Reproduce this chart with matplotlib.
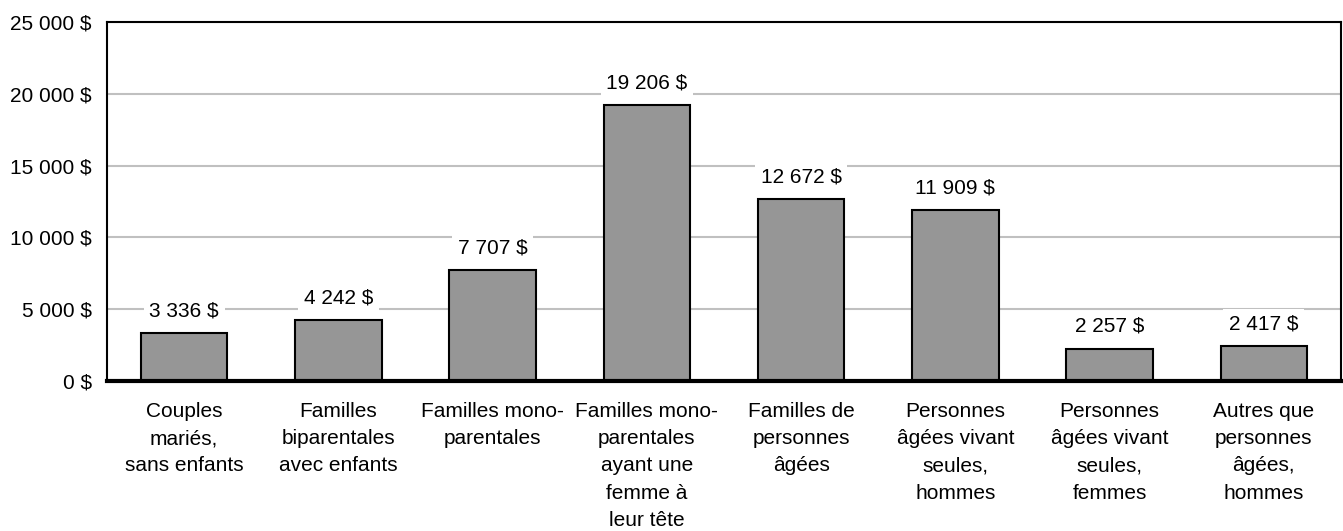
import matplotlib
matplotlib.use("Agg")
import matplotlib.pyplot as plt

plt.rcParams['font.family'] = ['Liberation Sans', 'DejaVu Sans']

categories = ["Couples\nmariés,\nsans enfants",
              "Familles\nbiparentales\navec enfants",
              "Familles mono-\nparentales",
              "Familles mono-\nparentales\nayant une\nfemme à\nleur tête",
              "Familles de\npersonnes\nâgées",
              "Personnes\nâgées vivant\nseules,\nhommes",
              "Personnes\nâgées vivant\nseules,\nfemmes",
              "Autres que\npersonnes\nâgées,\nhommes"]
values = [3336, 4242, 7707, 19206, 12672, 11909, 2257, 2417]
yticks = [0, 5000, 10000, 15000, 20000, 25000]


def fmt(v):
    return "{:,}".format(v).replace(",", " ") + " $"


fig = plt.figure(figsize=(13.43, 5.31), dpi=100)
ax = fig.add_axes([0.0797, 0.2825, 0.9188, 0.6761])

x = range(len(values))
ax.bar(x, values, width=0.56, color="#969696", edgecolor="black", linewidth=1.5, zorder=3)

for i, v in zip(x, values):
    ax.text(i, v + 1550, fmt(v), ha="center", va="center", fontsize=15,
            bbox=dict(facecolor="white", edgecolor="none", pad=4), zorder=4)

ax.set_xlim(-0.5, len(values) - 0.5)
ax.set_ylim(0, 25000)
ax.set_yticks(yticks)
ax.set_yticklabels([fmt(t) for t in yticks], fontsize=15)
ax.set_xticks(list(x))
ax.set_xticklabels(categories, fontsize=15, linespacing=1.55, va="top")
ax.tick_params(axis="both", length=0)
ax.tick_params(axis="x", pad=15)
ax.tick_params(axis="y", pad=11)
ax.yaxis.grid(True, color="#c0c0c0", linewidth=1.5, zorder=0)
ax.set_axisbelow(True)

for s in ["top", "right", "left"]:
    ax.spines[s].set_linewidth(1.5)
ax.spines["bottom"].set_linewidth(3)
ax.spines["bottom"].set_zorder(5)

fig.savefig("out.png", dpi=100)
